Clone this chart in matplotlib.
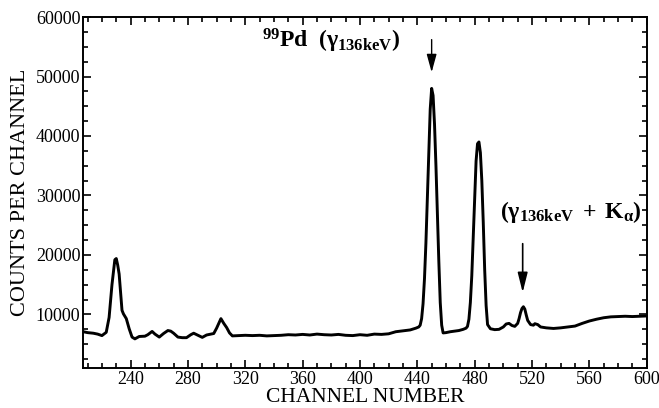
"""Gamma spectrum: counts per channel versus channel number."""
import matplotlib
matplotlib.use("Agg")
import matplotlib.pyplot as plt
from matplotlib.ticker import MultipleLocator

plt.rcParams["font.family"] = ["Liberation Serif", "DejaVu Serif"]
plt.rcParams["mathtext.fontset"] = "custom"
plt.rcParams["mathtext.rm"] = "Liberation Serif"
plt.rcParams["mathtext.it"] = "Liberation Serif:italic"
plt.rcParams["mathtext.bf"] = "Liberation Serif:bold"

# values
channels = [
    207, 210, 214, 217, 220, 223, 225, 227, 229, 230, 231, 232, 233, 234,
    235, 237, 239, 241, 243, 246, 250, 252, 255, 257, 260, 263, 266, 268,
    270, 273, 276, 279, 282, 284, 287, 290, 293, 296, 298, 300, 303, 305,
    307, 309, 311, 315, 320, 325, 330, 335, 340, 345, 350, 355, 360, 365,
    370, 375, 380, 385, 390, 395, 400, 405, 410, 415, 420, 425, 430, 435,
    439, 441, 442, 443, 444, 445, 446, 447, 448, 449, 450, 451, 452, 453,
    454, 455, 456, 457, 458, 460, 463, 466, 469, 472, 474, 475, 476, 477,
    478, 479, 480, 481, 482, 483, 484, 485, 486, 487, 488, 489, 491, 494,
    497, 500, 502, 504, 506, 508, 510, 511, 512, 513, 514, 515, 516, 517,
    519, 521, 522, 524, 526, 530, 535, 540, 545, 550, 555, 560, 565, 570,
    575, 580, 585, 590, 595, 600,
]
counts = [
    7100, 6950, 6850, 6700, 6450, 7000, 9500, 15000, 19200, 19400, 18300,
    16800, 13800, 10700, 10100, 9300, 7600, 6200, 5900, 6300, 6350, 6600,
    7150, 6700, 6200, 6800, 7300, 7200, 6850, 6200, 6100, 6100, 6600, 6850,
    6500, 6150, 6550, 6700, 6800, 7700, 9300, 8500, 7800, 6900, 6400, 6450,
    6500, 6450, 6500, 6400, 6450, 6500, 6600, 6550, 6650, 6550, 6700, 6600,
    6550, 6650, 6500, 6450, 6600, 6500, 6700, 6650, 6750, 7100, 7250, 7400,
    7700, 7900, 8200, 9300, 11800, 16000, 22000, 29500, 37500, 44500, 48000,
    46800, 42000, 35000, 27000, 19000, 12000, 8200, 6900, 6950, 7100, 7200,
    7300, 7500, 7700, 8000, 9200, 12000, 16500, 23000, 30000, 35800, 38700,
    39000, 37200, 32500, 25500, 17500, 11500, 8300, 7600, 7450, 7500, 7900,
    8400, 8500, 8150, 8000, 8500, 9300, 10300, 11000, 11300, 10900, 9900,
    9000, 8300, 8200, 8450, 8300, 7900, 7750, 7650, 7750, 7900, 8050, 8500,
    8900, 9200, 9450, 9600, 9650, 9700, 9650, 9700, 9750,
]

x_ticks = [240, 280, 320, 360, 400, 440, 480, 520, 560, 600]
y_ticks = [10000, 20000, 30000, 40000, 50000, 60000]

fig = plt.figure(figsize=(6.59, 4.08), dpi=100)
ax = fig.add_axes([0.1264, 0.098, 0.8549, 0.8603])

ax.plot(channels, counts, color="black", lw=2.1)

ax.set_xlim(207, 600)
ax.set_ylim(1000, 60000)
ax.set_xticks(x_ticks)
ax.set_yticks(y_ticks)
ax.xaxis.set_minor_locator(MultipleLocator(10))
ax.yaxis.set_minor_locator(MultipleLocator(2500))
ax.tick_params(which="both", direction="in", top=True, right=True,
               labelsize=13, width=1.2, pad=2)
ax.tick_params(which="major", length=6)
ax.tick_params(which="minor", length=3.5)
for spine in ax.spines.values():
    spine.set_linewidth(1.4)

ax.set_xlabel("CHANNEL NUMBER", fontsize=15.5, labelpad=0)
ax.set_ylabel("COUNTS PER CHANNEL", fontsize=16, labelpad=4)

ax.text(331.7, 54800, r"$\mathbf{^{99}Pd\ \ (γ_{136keV})}$",
        fontsize=17, ha="left", va="baseline")
ax.annotate("", xy=(450, 50700), xytext=(450, 56200),
            arrowprops=dict(arrowstyle="-|>,head_length=1.1,head_width=0.3",
                            color="black", lw=1.0, shrinkA=0, shrinkB=0))

ax.text(497.7, 26200, r"$\mathbf{(γ_{136keV}\ +\ K_{α})}$",
        fontsize=17, ha="left", va="baseline", clip_on=False)
ax.annotate("", xy=(513.5, 13700), xytext=(513.5, 21900),
            arrowprops=dict(arrowstyle="-|>,head_length=1.2,head_width=0.3",
                            color="black", lw=1.2, shrinkA=0, shrinkB=0))

fig.savefig("out.png", dpi=100)
